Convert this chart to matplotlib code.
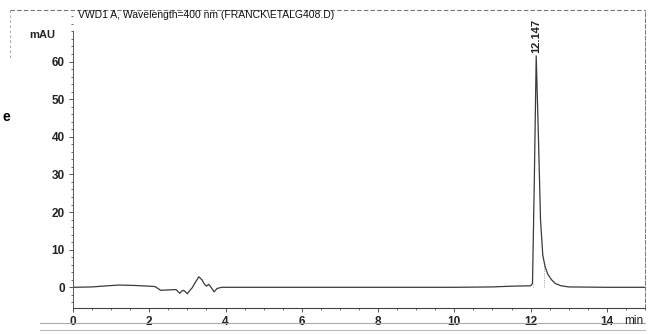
import numpy as np
import matplotlib.pyplot as plt
from matplotlib.ticker import MultipleLocator
from matplotlib.lines import Line2D

plt.rcParams['font.family'] = ['Liberation Sans', 'DejaVu Sans']

# chromatogram trace (time in min, signal in mAU)
time_min = [0.0, 0.5, 0.9, 1.2, 1.6, 2.0, 2.15, 2.3, 2.5, 2.7, 2.8, 2.85, 2.9,
            2.95, 3.0, 3.05, 3.12, 3.2, 3.3, 3.38, 3.45, 3.5, 3.56, 3.62, 3.7,
            3.78, 3.9, 5.0, 8.0, 10.0, 11.0, 11.5, 12.0, 12.05, 12.1, 12.147,
            12.2, 12.26, 12.32, 12.38, 12.45, 12.55, 12.65, 12.8, 13.0, 14.0, 15.0]
signal_mau = [0.0, 0.1, 0.4, 0.6, 0.5, 0.3, 0.2, -0.8, -0.7, -0.6, -1.6, -1.0, -0.8,
              -1.2, -1.7, -1.0, -0.2, 1.2, 2.8, 2.0, 0.8, 0.3, 0.8, 0.0, -1.2,
              -0.3, 0.0, 0.0, 0.0, 0.0, 0.1, 0.3, 0.4, 1.0, 30.0, 61.5,
              42.0, 18.0, 8.5, 5.5, 3.5, 2.0, 1.0, 0.4, 0.1, 0.0, 0.0]

peak_rt = 12.147
peak_label = "12.147"
title = "VWD1 A, Wavelength=400 nm (FRANCK\\ETALG408.D)"
yticks = [0, 10, 20, 30, 40, 50, 60]
xticks = [0, 2, 4, 6, 8, 10, 12, 14]

fig = plt.figure(figsize=(6.52, 3.34), dpi=100)
ax = fig.add_axes([73 / 652, 1 - 308 / 334, (645 - 73) / 652, (308 - 10) / 334])

ax.plot(time_min, signal_mau, color="#3a3a3a", lw=0.9)
# integration baseline marks
ax.vlines([12.05, 12.35], 0, [1.0, 6.0], colors="#888888", lw=0.6, linestyles=":")

ax.set_xlim(0, 15)
ax.set_ylim(-5.5, 73.7)
ax.set_xticks(xticks)
ax.set_yticks(yticks)
ax.xaxis.set_minor_locator(MultipleLocator(0.5))
ax.yaxis.set_minor_locator(MultipleLocator(2))
ax.tick_params(axis="both", which="major", length=3, width=0.7, labelsize=8.5,
               color="#555555", pad=3)
ax.tick_params(axis="both", which="minor", length=1.5, width=0.6, color="#555555")
for lab in ax.get_xticklabels() + ax.get_yticklabels():
    lab.set_fontweight("bold")
    lab.set_color("#222222")

ax.spines["left"].set_bounds(-5.5, 68)
ax.spines["left"].set_color("#555555")
ax.spines["bottom"].set_color("#444444")
ax.spines["left"].set_linewidth(0.7)
ax.spines["bottom"].set_linewidth(0.8)
ax.spines["top"].set_visible(False)
ax.spines["right"].set_linestyle((0, (4, 2)))
ax.spines["right"].set_color("#777777")
ax.spines["right"].set_linewidth(0.7)

ax.text(peak_rt, 62.3, peak_label, rotation=90, ha="center", va="bottom",
        fontsize=8, fontweight="bold", color="#222222")

fig.text(78 / 652, 1 - 15 / 334, title, fontsize=7.5, va="center", ha="left", color="#111111")
fig.text(42 / 652, 1 - 35 / 334, "mAU", fontsize=8, fontweight="bold", va="center",
         ha="center", color="#222222")
fig.text(634 / 652, 1 - 321 / 334, "min", fontsize=8.5, va="center", ha="center", color="#222222")
fig.text(6 / 652, 1 - 117 / 334, "e", fontsize=10, fontweight="bold", va="center", ha="center")

# frame of the printed report and page lines from the scan
fig.add_artist(Line2D([10 / 652, 645 / 652], [1 - 10 / 334] * 2, color="#777777",
                      lw=0.8, ls=(0, (4, 2))))
fig.add_artist(Line2D([10 / 652] * 2, [1 - 10 / 334, 1 - 60 / 334], color="#999999",
                      lw=0.6, ls=(0, (3, 3))))
fig.add_artist(Line2D([40 / 652, 645 / 652], [1 - 323 / 334] * 2, color="#aaaaaa", lw=0.8))
fig.add_artist(Line2D([40 / 652, 645 / 652], [1 - 330 / 334] * 2, color="#bbbbbb", lw=0.8))

fig.savefig("out.png", dpi=100)
